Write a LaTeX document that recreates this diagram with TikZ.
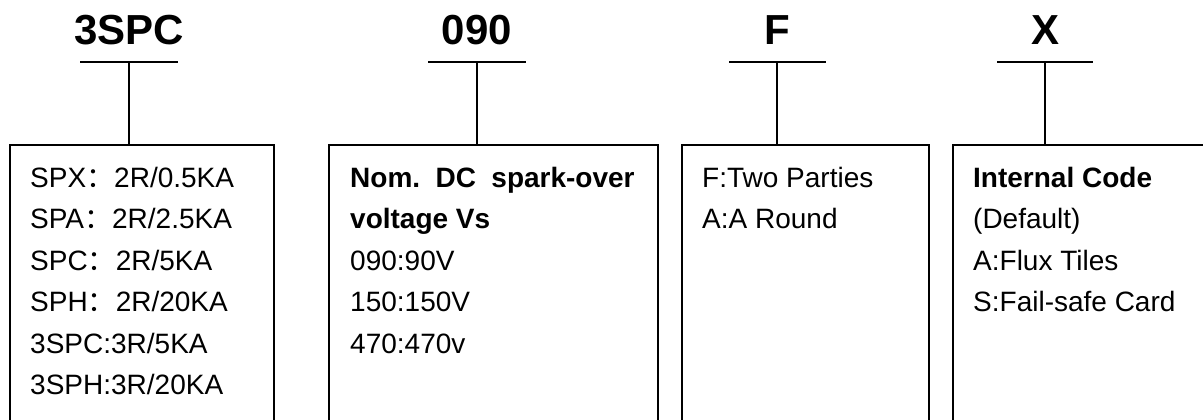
\documentclass[tikz,border=0pt]{standalone}
\usepackage{fontspec}
\setmainfont{Liberation Sans}
\newfontfamily\cjk{Noto Sans CJK SC}
\begin{document}
\begin{tikzpicture}[x=1pt,y=-1pt,
  lw/.style={line width=2pt},
  title/.style={font=\fontsize{42}{50}\selectfont\bfseries, anchor=base, inner sep=0pt},
  item/.style={font=\fontsize{28}{34}\selectfont, anchor=base west, inner sep=0pt},
  bitem/.style={item, font=\fontsize{28}{34}\selectfont\bfseries},
  codebox/.style={lw, draw, rectangle, anchor=north west, inner sep=0pt}]
\useasboundingbox (0,0) rectangle (1203,420);
\clip (0,0) rectangle (1203,420);
\def\ls{41.5}
% titles
\node[title] (t1) at (129,45) {3SPC};
\node[title] (t2) at (477,45) {090};
\node[title] (t3) at (777,45) {F};
\node[title] (t4) at (1045,45) {X};
% bars
\coordinate (h1l) at (80,62);  \coordinate (h1r) at (178,62);  \coordinate (h1) at (129,62);
\coordinate (h2l) at (428,62); \coordinate (h2r) at (526,62);  \coordinate (h2) at (477,62);
\coordinate (h3l) at (729,62); \coordinate (h3r) at (826,62);  \coordinate (h3) at (777,62);
\coordinate (h4l) at (997,62); \coordinate (h4r) at (1093,62); \coordinate (h4) at (1045,62);
% boxes
\node[codebox, minimum width=264pt, minimum height=300pt] (b1) at (9,144) {};
\node[codebox, minimum width=329pt, minimum height=300pt] (b2) at (328,144) {};
\node[codebox, minimum width=247pt, minimum height=300pt] (b3) at (681,144) {};
\node[codebox, minimum width=270pt, minimum height=300pt] (b4) at (952,144) {};
% connectors
\draw[lw] (h1l) -- (h1r); \draw[lw] (h1) -- (b1.north -| h1);
\draw[lw] (h2l) -- (h2r); \draw[lw] (h2) -- (b2.north -| h2);
\draw[lw] (h3l) -- (h3r); \draw[lw] (h3) -- (b3.north -| h3);
\draw[lw] (h4l) -- (h4r); \draw[lw] (h4) -- (b4.north -| h4);
% box 1 text
\node[item] (a1) at (30,187) {SPX{\cjk ：}2R/0.5KA};
\node[item] (a2) at (30,187+\ls) {SPA{\cjk ：}2R/2.5KA};
\node[item] (a3) at (30,187+2*\ls) {SPC{\cjk ：}2R/5KA};
\node[item] (a4) at (30,187+3*\ls) {SPH{\cjk ：}2R/20KA};
\node[item] (a5) at (30,187+4*\ls) {3SPC:3R/5KA};
\node[item] (a6) at (30,187+5*\ls) {3SPH:3R/20KA};
% box 2 text
\node[bitem] (c1) at (350,187) {Nom.\hspace{0.55em}DC\hspace{0.55em}spark-over};
\node[bitem] (c2) at (350,187+\ls) {voltage Vs};
\node[item] (c3) at (350,187+2*\ls) {090:90V};
\node[item] (c4) at (350,187+3*\ls) {150:150V};
\node[item] (c5) at (350,187+4*\ls) {470:470v};
% box 3 text
\node[item] (d1) at (702,187) {F:Two Parties};
\node[item] (d2) at (702,187+\ls) {A:A Round};
% box 4 text
\node[bitem] (e1) at (973,187) {Internal Code};
\node[item] (e2) at (973,187+\ls) {(Default)};
\node[item] (e3) at (973,187+2*\ls) {A:Flux Tiles};
\node[item] (e4) at (973,187+3*\ls) {S:Fail-safe Card};
\end{tikzpicture}
\end{document}
